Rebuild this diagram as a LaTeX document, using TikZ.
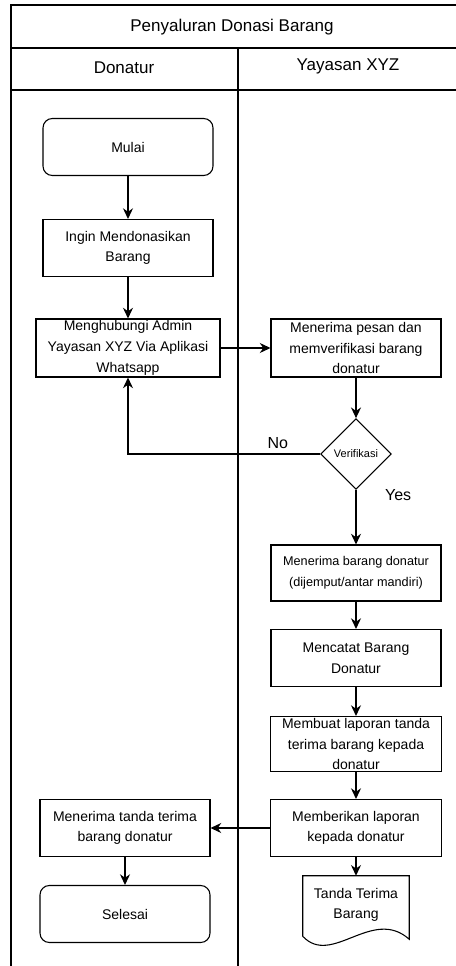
\documentclass[tikz,border=0pt]{standalone}
\usepackage{fontspec}
\setmainfont{Liberation Sans}
\usetikzlibrary{shapes.geometric, arrows.meta}
\tikzstyle{startstop} = [rectangle, rounded corners=7pt, minimum width=127.5pt, minimum height=42.75pt, text centered, draw=black, line width=0.8pt]
\tikzstyle{process} = [rectangle, minimum width=127.5pt, minimum height=42.75pt, inner xsep=2pt, inner ysep=1pt, text centered, align=center, draw=black, line width=0.8pt]
\tikzstyle{decision} = [diamond, aspect=1, minimum size=53pt, inner sep=0pt, text centered, draw=black, line width=0.8pt, font=\fontsize{8.25}{10}\selectfont]
\tikzstyle{io} = [rectangle, minimum width=79.5pt, minimum height=43.5pt, text centered, align=center]
\tikzstyle{header} = [font=\fontsize{12.75}{15}\selectfont]
\tikzstyle{answer} = [font=\fontsize{12}{14}\selectfont]
\tikzstyle{lane} = [line width=1pt, draw=black]
\tikzstyle{arrow} = [line width=1pt,-{Stealth[length=8pt,width=7.5pt]}]

\begin{document}
\begin{tikzpicture}[font=\fontsize{10.5}{15.5}\selectfont]
    \useasboundingbox (0,0) rectangle (342pt,-724.5pt);
    % swimlanes
    \draw [lane] (342pt,-3.75pt) -- (8.25pt,-3.75pt) -- (8.25pt,-724.5pt);
    \draw [lane] (8.25pt,-36pt) -- (342pt,-36pt);
    \draw [lane] (8.25pt,-67.5pt) -- (342pt,-67.5pt);
    \draw [lane] (178.5pt,-36pt) -- (178.5pt,-724.5pt);
    \node (title) [header] at (174pt,-20.5pt) {Penyaluran Donasi Barang};
    \node (donatur) [header] at (93pt,-50.5pt) {Donatur};
    \node (yayasan) [header] at (261pt,-50pt) {Yayasan XYZ};

    \node (start) [startstop] at (96pt,-110.25pt) {Mulai};
    \node (ingin) [process, node distance=75.75pt, below of=start] {Ingin Mendonasikan\\Barang};
    \node (hubungi) [process, node distance=75pt, below of=ingin, minimum width=138pt, minimum height=43.5pt] {Menghubungi Admin\\Yayasan XYZ Via Aplikasi\\Whatsapp};
    \node (pesan) [process, node distance=171pt, right of=hubungi, minimum height=43.5pt] {Menerima pesan dan\\memverifikasi barang\\donatur};
    \node (verif) [decision, node distance=79.5pt, below of=pesan] {Verifikasi};
    \node (terima) [process, node distance=89.25pt, below of=verif, minimum height=42pt, font=\fontsize{9.5}{16}\selectfont] {Menerima barang donatur\\(dijemput/antar mandiri)};
    \node (catat) [process, node distance=63.75pt, below of=terima] {Mencatat Barang\\Donatur};
    \node (laporan) [process, node distance=64.5pt, below of=catat, minimum width=128.25pt, minimum height=41.25pt] {Membuat laporan tanda\\terima barang kepada\\donatur};
    \node (beri) [process, node distance=63pt, below of=laporan, minimum width=128.25pt] {Memberikan laporan\\kepada donatur};
    \node (tanda) [io, node distance=57.75pt, below of=beri] {Tanda Terima\\Barang};
    \node (tandaterima) [process, node distance=173.25pt, left of=beri] {Menerima tanda terima\\barang donatur};
    \node (stop) [startstop, node distance=64.5pt, below of=tandaterima] {Selesai};

    % document shape
    \draw [line width=0.8pt] ([yshift=-1.5pt]tanda.south west) -- (tanda.north west) -- (tanda.north east) -- ([yshift=-3.75pt]tanda.south east) .. controls +(-27.75pt,24.75pt) and +(21.75pt,-23.25pt) .. ([yshift=-1.5pt]tanda.south west);

    \draw [arrow] (start) -- (ingin);
    \draw [arrow] (ingin) -- (hubungi);
    \draw [arrow] (hubungi) -- (pesan);
    \draw [arrow] (pesan) -- (verif);
    \draw [arrow] (verif) -- node[answer, pos=0.1, right=18pt] {Yes} (terima);
    \draw [arrow] (verif) -| node[answer, pos=0.11, above] {No} (hubungi);
    \draw [arrow] (terima) -- (catat);
    \draw [arrow] (catat) -- (laporan);
    \draw [arrow] (laporan) -- (beri);
    \draw [arrow] (beri) -- (tanda);
    \draw [arrow] (beri) -- (tandaterima);
    \draw [arrow] (tandaterima) -- (stop);

\end{tikzpicture}
\end{document}
